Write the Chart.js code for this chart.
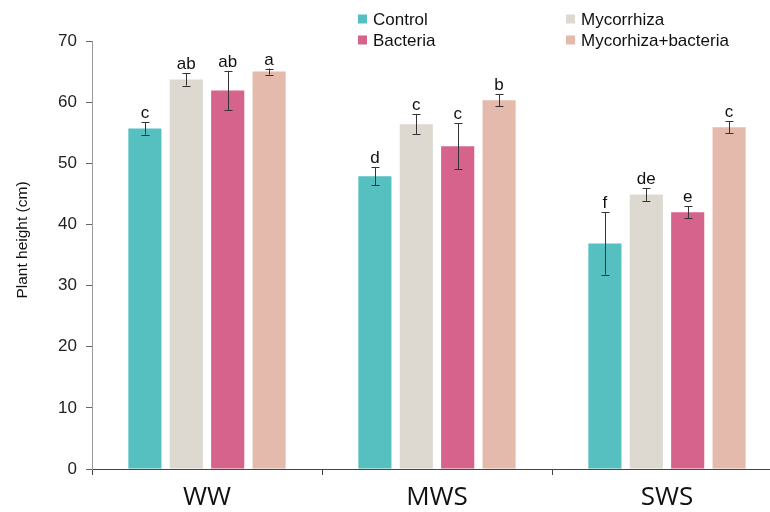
<!DOCTYPE html>
<html>
<head>
<meta charset="utf-8">
<script src="https://cdn.jsdelivr.net/npm/chart.js@4/dist/chart.umd.min.js"></script>
<style>
  html, body { margin: 0; padding: 0; background: #fff; overflow: hidden; }
  #wrap { width: 790px; height: 512px; }
</style>
</head>
<body>
<div id="wrap"><canvas id="chart"></canvas></div>
<script>
const categories = ['WW', 'MWS', 'SWS'];
const seriesNames = ['Control', 'Mycorrhiza', 'Bacteria', 'Mycorhiza+bacteria'];
const seriesColors = ['#56bfbf', '#ddd9d1', '#d6638b', '#e3baab'];

const control = [55.7, 47.9, 36.9];
const mycorrhiza = [63.7, 56.4, 44.9];
const bacteria = [61.9, 52.8, 42.0];
const mycBact = [65.0, 60.3, 55.9];

const controlErr = [1.0, 1.5, 5.1];
const mycorrhizaErr = [1.0, 1.6, 1.05];
const bacteriaErr = [3.2, 3.75, 1.0];
const mycBactErr = [0.5, 1.0, 1.0];

const controlLetters = ['c', 'd', 'f'];
const mycorrhizaLetters = ['ab', 'c', 'de'];
const bacteriaLetters = ['ab', 'c', 'e'];
const mycBactLetters = ['a', 'b', 'c'];

const yTicks = [0, 10, 20, 30, 40, 50, 60, 70];

const values = [control, mycorrhiza, bacteria, mycBact];
const errors = [controlErr, mycorrhizaErr, bacteriaErr, mycBactErr];
const letters = [controlLetters, mycorrhizaLetters, bacteriaLetters, mycBactLetters];

const FONT = '"Liberation Sans", Arial, sans-serif';

// error bars + significance letters
const errorBarPlugin = {
  id: 'errorBars',
  afterDatasetsDraw(chart) {
    const ctx = chart.ctx;
    const y = chart.scales.y;
    ctx.save();
    chart.data.datasets.forEach((ds, i) => {
      const meta = chart.getDatasetMeta(i);
      meta.data.forEach((bar, j) => {
        const v = values[i][j];
        const e = errors[i][j];
        const top = y.getPixelForValue(v + e);
        const bot = y.getPixelForValue(v - e);
        const x = Math.round(bar.x) + 0.5;
        ctx.strokeStyle = '#333';
        ctx.lineWidth = 1;
        ctx.beginPath();
        ctx.moveTo(x, top); ctx.lineTo(x, bot);
        ctx.moveTo(x - 4, Math.round(top) + 0.5); ctx.lineTo(x + 4, Math.round(top) + 0.5);
        ctx.moveTo(x - 4, Math.round(bot) + 0.5); ctx.lineTo(x + 4, Math.round(bot) + 0.5);
        ctx.stroke();
        ctx.fillStyle = '#111';
        ctx.font = '17px ' + FONT;
        ctx.textAlign = 'center';
        ctx.textBaseline = 'alphabetic';
        ctx.fillText(letters[i][j], bar.x, top - 4);
      });
    });
    ctx.restore();
  }
};

// 2x2 legend at the top and the y-axis title
const legendPlugin = {
  id: 'gridLegend',
  afterDraw(chart) {
    const ctx = chart.ctx;
    const cols = [358, 566];
    const rows = [19, 40];
    const order = [[0, 0], [1, 0], [0, 1], [1, 1]]; // Control, Mycorrhiza, Bacteria, Myc+bact
    ctx.save();
    chart.data.datasets.forEach((ds, i) => {
      const [c, r] = order[i];
      const x = cols[c], yc = rows[r];
      ctx.fillStyle = ds.backgroundColor;
      ctx.fillRect(x, yc - 4.5, 9, 9);
      ctx.fillStyle = '#111';
      ctx.font = '17px ' + FONT;
      ctx.textAlign = 'left';
      ctx.textBaseline = 'middle';
      ctx.fillText(ds.label, x + 15, yc + 1);
    });
    ctx.translate(23, 240);
    ctx.rotate(-Math.PI / 2);
    ctx.font = '15.5px ' + FONT;
    ctx.fillStyle = '#111';
    ctx.textAlign = 'center';
    ctx.textBaseline = 'middle';
    ctx.fillText('Plant height (cm)', 0, 0);
    ctx.restore();
  }
};

new Chart(document.getElementById('chart'), {
  type: 'bar',
  data: {
    labels: categories,
    datasets: seriesNames.map((name, i) => ({
      label: name,
      data: values[i],
      backgroundColor: seriesColors[i],
      borderWidth: 0,
      categoryPercentage: 0.72,
      barPercentage: 0.8,
    })),
  },
  options: {
    responsive: true,
    maintainAspectRatio: false,
    animation: false,
    layout: { padding: { top: 41, right: 8, bottom: 0, left: 0 } },
    plugins: {
      legend: { display: false },
      tooltip: { enabled: false },
    },
    scales: {
      x: {
        grid: {
          offset: true,
          drawOnChartArea: false,
          tickLength: 6,
          color: '#444',
        },
        border: { color: '#444', width: 1 },
        ticks: {
          color: '#111',
          font: { family: '"Open Sans", sans-serif', size: 26 },
          padding: 7,
        },
        afterFit(scale) { scale.height = 43; },
      },
      y: {
        min: 0,
        max: 70,
        afterBuildTicks(scale) {
          scale.ticks = yTicks.map((v) => ({ value: v }));
        },
        grid: {
          drawOnChartArea: false,
          tickLength: 6,
          color: '#666',
        },
        border: { color: '#999', width: 1 },
        ticks: {
          color: '#222',
          font: { family: FONT, size: 17 },
          padding: 9,
        },
        afterFit(scale) { scale.width = 92; },
      },
    },
  },
  plugins: [errorBarPlugin, legendPlugin],
});
</script>
</body>
</html>
